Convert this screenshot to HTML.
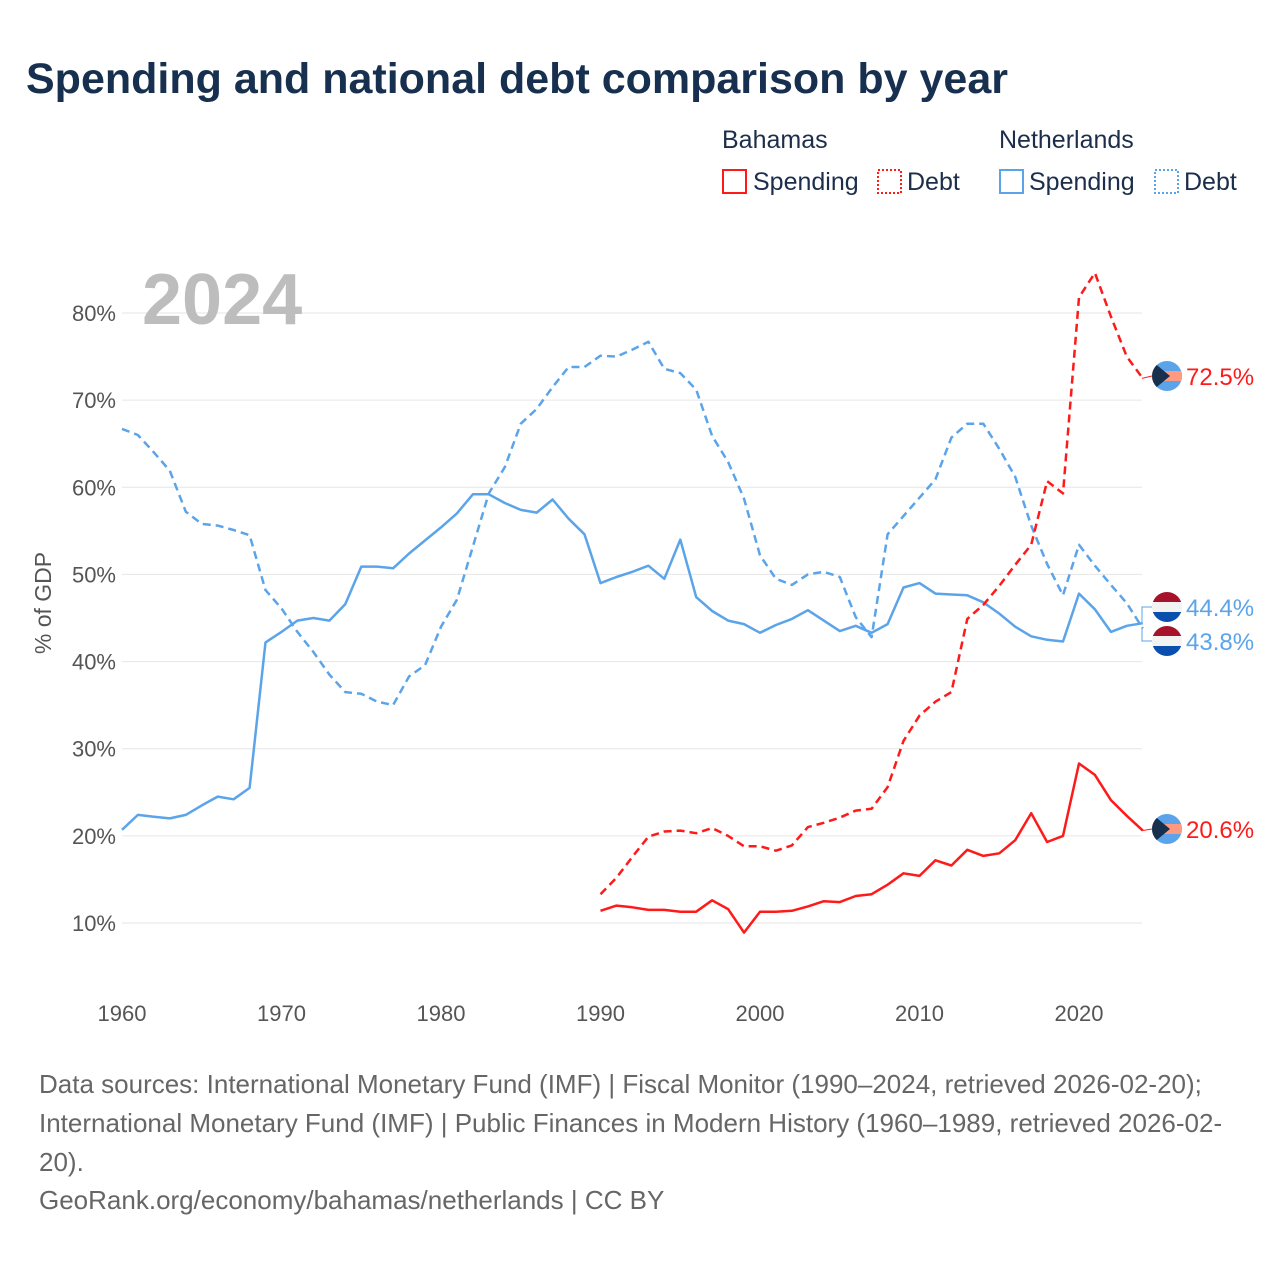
<!DOCTYPE html>
<html><head><meta charset="utf-8"><style>
body{margin:0;background:#fff;font-family:"Liberation Sans",sans-serif;}
svg text{font-family:"Liberation Sans",sans-serif;}
</style></head><body>
<svg id="chart" width="1280" height="1280" viewBox="0 0 1280 1280" xmlns="http://www.w3.org/2000/svg">
<rect width="1280" height="1280" fill="#fff"/>
<text x="26" y="93" font-size="43" font-weight="bold" fill="#17304f">Spending and national debt comparison by year</text>
<g font-size="25" fill="#1c2e4c">
<text x="722" y="148">Bahamas</text>
<text x="999" y="148">Netherlands</text>
<g><rect x="723" y="170" width="23" height="23" fill="none" stroke="#ff1a1a" stroke-width="2"/><text x="753" y="190">Spending</text></g>
<g><rect x="878" y="170" width="23" height="23" fill="none" stroke="#ff1a1a" stroke-width="2" stroke-dasharray="2,2"/><text x="907" y="190">Debt</text></g>
<g><rect x="1000" y="170" width="23" height="23" fill="none" stroke="#5ba4ea" stroke-width="2"/><text x="1029" y="190">Spending</text></g>
<g><rect x="1155" y="170" width="23" height="23" fill="none" stroke="#5ba4ea" stroke-width="2" stroke-dasharray="2,2"/><text x="1184" y="190">Debt</text></g>
</g>
<g id="grid"></g>
<text x="142" y="324" font-size="72" font-weight="bold" fill="#bdbdbd">2024</text>
<text transform="translate(51,603) rotate(-90)" text-anchor="middle" font-size="23" fill="#555">% of GDP</text>
<g id="series"></g>
<g id="endlabels"></g>
<g font-size="26" fill="#666">
<text x="39" y="1093">Data sources: International Monetary Fund (IMF) | Fiscal Monitor (1990–2024, retrieved 2026-02-20);</text>
<text x="39" y="1132">International Monetary Fund (IMF) | Public Finances in Modern History (1960–1989, retrieved 2026-02-</text>
<text x="39" y="1171">20).</text>
<text x="39" y="1209">GeoRank.org/economy/bahamas/netherlands | CC BY</text>
</g>
</svg>
<script>
const nlYears=[];for(let y=1960;y<=2024;y++)nlYears.push(y);
const bsYears=[];for(let y=1990;y<=2024;y++)bsYears.push(y);
const nlSpending=[20.7,22.4,22.2,22.0,22.4,23.5,24.5,24.2,25.5,42.2,43.4,44.7,45.0,44.7,46.6,50.9,50.9,50.7,52.4,53.9,55.4,57.0,59.2,59.2,58.2,57.4,57.1,58.6,56.4,54.6,
49.0,49.7,50.3,51.0,49.5,54.0,47.4,45.8,44.7,44.3,43.3,44.2,44.9,45.9,44.7,43.5,44.1,43.3,44.3,48.5,49.0,47.8,47.7,47.6,46.8,45.5,44.0,42.9,42.5,42.3,47.8,46.0,43.4,44.1,44.4];
const nlDebt=[66.7,66.0,64.0,61.9,57.2,55.8,55.6,55.1,54.5,48.2,46.1,43.4,41.1,38.5,36.5,36.3,35.4,35.0,38.3,39.6,44.0,47.1,53.2,59.3,62.3,67.3,69.0,71.5,73.8,73.8,
75.1,75.0,75.8,76.7,73.6,73.1,71.2,65.9,62.9,58.7,52.2,49.5,48.8,50.0,50.3,49.7,45.1,42.8,54.6,56.7,58.8,60.9,65.7,67.3,67.3,64.4,61.2,55.6,51.2,47.6,53.4,51.0,48.8,46.7,43.8];
const bsSpending=[11.4,12.0,11.8,11.5,11.5,11.3,11.3,12.6,11.6,8.9,11.3,11.3,11.4,11.9,12.5,12.4,13.1,13.3,14.4,15.7,15.4,17.2,16.6,18.4,17.7,18.0,19.5,22.6,19.3,20.0,28.3,27.0,24.1,22.3,20.6];
const bsDebt=[13.3,15.2,17.6,19.9,20.5,20.6,20.3,20.9,20.0,18.8,18.8,18.3,18.9,21.0,21.5,22.1,22.9,23.1,25.6,30.9,33.8,35.4,36.5,44.9,46.5,48.7,51.1,53.4,60.7,59.3,81.8,84.6,79.6,75.0,72.5];
const yTicks=[10,20,30,40,50,60,70,80];
const xTicks=[1960,1970,1980,1990,2000,2010,2020];

const NS="http://www.w3.org/2000/svg";
const X0=122,X1=1142.8,Y0=923,Y1=313;
const xs=y=>X0+(y-1960)*(X1-X0)/64;
const ys=v=>Y0-(v-10)*(Y0-Y1)/70;
function mk(tag,attrs,parent){const e=document.createElementNS(NS,tag);for(const k in attrs)e.setAttribute(k,attrs[k]);parent.appendChild(e);return e;}
const grid=document.getElementById('grid');
yTicks.forEach(t=>{
  const l=mk('line',{x1:X0,x2:1142,y1:ys(t),y2:ys(t),stroke:'#e6e6e6','stroke-width':1},grid);
  
  
  const tx=mk('text',{x:116,y:ys(t)+8,'text-anchor':'end','font-size':22,fill:'#555'},grid);
  tx.textContent=t+'%';
  
  
});
xTicks.forEach(t=>{
  const tx=mk('text',{x:xs(t),y:1021,'text-anchor':'middle','font-size':22,fill:'#555'},grid);
  tx.textContent=t;
  
  
});
const ser=document.getElementById('series');
function line(years,vals,color,dash,name){
  const d=vals.map((v,i)=>(i?'L':'M')+xs(years[i]).toFixed(1)+','+ys(v).toFixed(1)).join('');
  const p=mk('path',{d:d,fill:'none',stroke:color,'stroke-width':2.5,'stroke-linejoin':'round'},ser);
  if(dash)p.setAttribute('stroke-dasharray','8,5');
  
  
}
line(nlYears,nlSpending,'#5ba4ea',false,'netherlands-spending-line');
line(nlYears,nlDebt,'#5ba4ea',true,'netherlands-debt-line');
line(bsYears,bsSpending,'#ff1a1a',false,'bahamas-spending-line');
line(bsYears,bsDebt,'#ff1a1a',true,'bahamas-debt-line');

const el=document.getElementById('endlabels');
let cid=0;
function clip(cx,cy){const id='c'+(cid++);const cp=mk('clipPath',{id:id},el);mk('circle',{cx:cx,cy:cy,r:15},cp);return id;}
function bsFlag(cy,val,name){
  const g=mk('g',{},el);
  
  
  mk('line',{x1:1142,x2:1152,y1:ys(val),y2:cy,stroke:'#ff1a1a','stroke-width':1},g);
  const id=clip(1167,cy);
  const f=mk('g',{'clip-path':'url(#'+id+')'},g);
  mk('rect',{x:1152,y:cy-15,width:30,height:30,fill:'#5ba4ea'},f);
  mk('rect',{x:1152,y:cy-5,width:30,height:10,fill:'#ff9a80'},f);
  mk('polygon',{points:`1152,${cy-15} 1170,${cy} 1152,${cy+15}`,fill:'#16304d'},f);
  const t=mk('text',{x:1186,y:cy+9,'font-size':24,fill:'#ff1a1a'},g);t.textContent=val.toFixed(1)+'%';
}
function nlFlag(cy,val,name){
  const g=mk('g',{},el);
  
  
  mk('polyline',{points:`1142,${ys(val)} 1142,${cy} 1152,${cy}`,fill:'none',stroke:'#5ba4ea','stroke-width':1},g);
  const id=clip(1167,cy);
  const f=mk('g',{'clip-path':'url(#'+id+')'},g);
  mk('rect',{x:1152,y:cy-15,width:30,height:10,fill:'#a5122a'},f);
  mk('rect',{x:1152,y:cy-5,width:30,height:10,fill:'#f2f2f2'},f);
  mk('rect',{x:1152,y:cy+5,width:30,height:10,fill:'#0b4fae'},f);
  const t=mk('text',{x:1186,y:cy+9,'font-size':24,fill:'#5ba4ea'},g);t.textContent=val.toFixed(1)+'%';
}
bsFlag(376,bsDebt[bsDebt.length-1],'bahamas-debt-end-label');
bsFlag(829,bsSpending[bsSpending.length-1],'bahamas-spending-end-label');
nlFlag(607,nlSpending[nlSpending.length-1],'netherlands-spending-end-label');
nlFlag(641,nlDebt[nlDebt.length-1],'netherlands-debt-end-label');
</script>
</body></html>
